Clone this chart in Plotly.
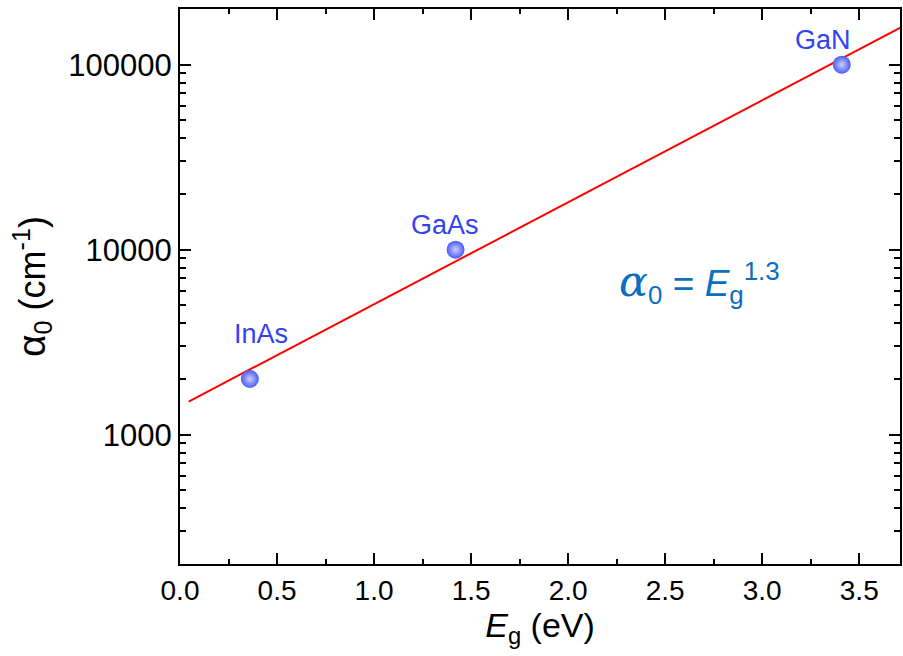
import math
import plotly.graph_objects as go

# data
materials = ["InAs", "GaAs", "GaN"]
eg_values = [0.36, 1.42, 3.41]
alpha_values = [2000, 10000, 100000]
fit_x = [0.045, 3.72]
fit_y = [1510, 160000]
y_tick_vals = [1000, 10000, 100000]
y_tick_text = ["1000", "10000", "100000"]
x_tick_vals = [0.0, 0.5, 1.0, 1.5, 2.0, 2.5, 3.0, 3.5]
x_tick_text = ["0.0", "0.5", "1.0", "1.5", "2.0", "2.5", "3.0", "3.5"]

label_shift_x = [11, -11, -19]
label_shift_y = [45, 25, 25]

FONT = "Liberation Sans, Arial, sans-serif"

fig = go.Figure()
fig.add_trace(go.Scatter(x=fit_x, y=fit_y, mode="lines",
                         line=dict(color="#ff0000", width=2), showlegend=False))
fig.add_trace(go.Scatter(x=eg_values, y=alpha_values, mode="markers",
                         marker=dict(size=18, color="#4a5cf6",
                                     gradient=dict(type="radial", color="#c9cfff"),
                                     line=dict(width=0)),
                         showlegend=False))

for m, xv, yv, dx, dy in zip(materials, eg_values, alpha_values, label_shift_x, label_shift_y):
    fig.add_annotation(x=xv, y=math.log10(yv), text=m, showarrow=False,
                       xshift=dx, yshift=dy,
                       font=dict(family=FONT, size=27, color="#3344ee"))

fig.add_annotation(xref="paper", yref="paper", x=0.722, y=0.507,
                   xanchor="center", yanchor="middle", showarrow=False,
                   text="<span style='font-family:DejaVu Serif;font-size:43px'><i>α</i></span><sub>0</sub> = <i>E</i><sub>g</sub><sup>1.3</sup>",
                   font=dict(family=FONT, size=37, color="#0a6fc2"))

minor_y = [d * 10 ** e for e in range(2, 6) for d in range(2, 10) if 200 <= d * 10 ** e <= 200000]

fig.update_layout(
    width=903, height=656,
    margin=dict(l=180, r=1, t=9, b=92),
    paper_bgcolor="white", plot_bgcolor="white",
    font=dict(family=FONT, size=28, color="black"),
    xaxis=dict(range=[0, 3.71], tickvals=x_tick_vals, ticktext=x_tick_text,
               ticks="inside", ticklen=11, tickwidth=1.5, tickcolor="black",
               showline=True, linewidth=2, linecolor="black", mirror="ticks",
               showgrid=False, zeroline=False,
               minor=dict(dtick=0.25, ticks="inside", ticklen=5, tickwidth=1.5,
                          tickcolor="black", showgrid=False),
               tickfont=dict(size=28),
               title=dict(text="<i>E</i><sub>g</sub> (eV)", font=dict(size=34), standoff=6)),
    yaxis=dict(type="log", range=[2.30103, 5.30103], tickvals=y_tick_vals, ticktext=y_tick_text,
               ticks="inside", ticklen=11, tickwidth=1.5, tickcolor="black",
               showline=True, linewidth=2, linecolor="black", mirror="ticks",
               showgrid=False, zeroline=False,
               minor=dict(tickvals=minor_y, ticks="inside", ticklen=6, tickwidth=1.5,
                          tickcolor="black", showgrid=False),
               tickfont=dict(size=31),
               title=dict(text="\u00a0\u00a0<span style='font-size:39px'>α</span><sub>0</sub> (cm<sup>-1</sup>)",
                          font=dict(size=36), standoff=12)),
)

fig.write_html("out.html")
